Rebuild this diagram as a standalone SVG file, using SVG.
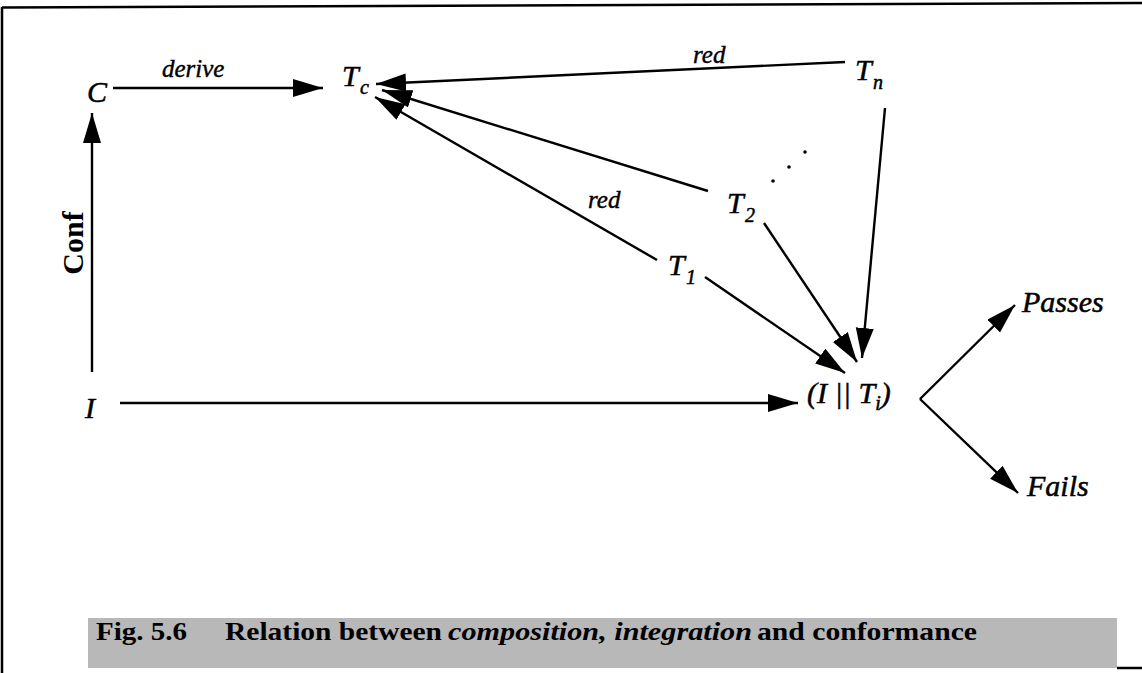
<svg xmlns="http://www.w3.org/2000/svg" width="1142" height="673" viewBox="0 0 1142 673">
<style>
.lbl{font-family:"Liberation Serif","Times New Roman",serif;font-style:italic;font-size:30px;fill:#000;stroke:#000;stroke-width:0.5}
.sub{font-size:20px}
.small{font-family:"Liberation Serif","Times New Roman",serif;font-style:italic;font-size:25px;fill:#000;stroke:#000;stroke-width:0.4}
.bold{font-family:"Liberation Serif","Times New Roman",serif;font-weight:bold;fill:#000}
.edge{stroke:#000;stroke-width:2.4;fill:none;marker-end:url(#ah)}
.frame{stroke:#000;stroke-width:2.5;fill:none}
.cap{font-family:"Liberation Serif","Times New Roman",serif;font-weight:bold;font-size:26px;fill:#000}
</style>
<defs>
<marker id="ah" markerUnits="userSpaceOnUse" markerWidth="32" markerHeight="19" refX="30" refY="9" orient="auto">
<path d="M0,0 L30,9 L0,18 z" fill="#000"/>
</marker>
</defs>
<rect width="1142" height="673" fill="#fff"/>
<g id="frame">
<line class="frame" x1="2" y1="7.5" x2="1142" y2="3"/>
<line class="frame" x1="2" y1="7" x2="2" y2="673"/>
<line class="frame" x1="1117" y1="668" x2="1142" y2="668"/>
</g>
<g id="connectors">
<line class="edge" x1="113" y1="88" x2="323" y2="88"/>
<line class="edge" x1="92" y1="372" x2="92" y2="113"/>
<line class="edge" x1="120" y1="403" x2="798" y2="403"/>
<line class="edge" x1="845" y1="62" x2="376" y2="84"/>
<line class="edge" x1="708" y1="191" x2="382" y2="90"/>
<line class="edge" x1="657" y1="260" x2="375" y2="97"/>
<line class="edge" x1="705" y1="277" x2="845" y2="373"/>
<line class="edge" x1="764" y1="223" x2="857" y2="362"/>
<line class="edge" x1="885" y1="108" x2="862" y2="358"/>
<line class="edge" x1="920" y1="399" x2="1015" y2="305"/>
<line class="edge" x1="920" y1="399" x2="1018" y2="493"/>
<text class="small" x="162" y="77">derive</text>
<text class="small" x="693" y="63">red</text>
<text class="small" x="588" y="208">red</text>
<text class="bold" font-size="30" text-anchor="middle" transform="translate(83,243) rotate(-90)">Conf</text>
<circle cx="805" cy="152" r="1.8" fill="#000"/>
<circle cx="789" cy="167" r="1.8" fill="#000"/>
<circle cx="773" cy="181" r="1.8" fill="#000"/>
</g>
<g id="node-C"><text class="lbl" x="87" y="102">C</text></g>
<g id="node-Tc"><text class="lbl" x="342" y="86">T<tspan class="sub" x="360" y="94">c</tspan></text></g>
<g id="node-Tn"><text class="lbl" x="855" y="80">T<tspan class="sub" x="873" y="89">n</tspan></text></g>
<g id="node-T2"><text class="lbl" x="727" y="213">T<tspan class="sub" x="745" y="222">2</tspan></text></g>
<g id="node-T1"><text class="lbl" x="668" y="275">T<tspan class="sub" x="686" y="284">1</tspan></text></g>
<g id="node-I"><text class="lbl" x="85" y="418">I</text></g>
<g id="node-ITi"><text class="lbl" x="807" y="403">(I || T<tspan class="sub" dy="7">i</tspan><tspan dy="-7">)</tspan></text></g>
<g id="node-Passes"><text class="lbl" x="1022" y="312">Passes</text></g>
<g id="node-Fails"><text class="lbl" x="1027" y="496">Fails</text></g>
<g id="caption">
<rect x="88" y="618" width="1029" height="50" fill="#b8b8b8"/>
<text class="cap" x="96" y="640" textLength="91" lengthAdjust="spacingAndGlyphs">Fig. 5.6</text>
<text class="cap" x="225" y="640" textLength="217" lengthAdjust="spacingAndGlyphs">Relation between</text>
<text class="cap" x="448" y="640" font-style="italic" font-weight="normal" textLength="304" lengthAdjust="spacingAndGlyphs">composition, integration</text>
<text class="cap" x="757" y="640" textLength="220" lengthAdjust="spacingAndGlyphs">and conformance</text>
</g>
</svg>
